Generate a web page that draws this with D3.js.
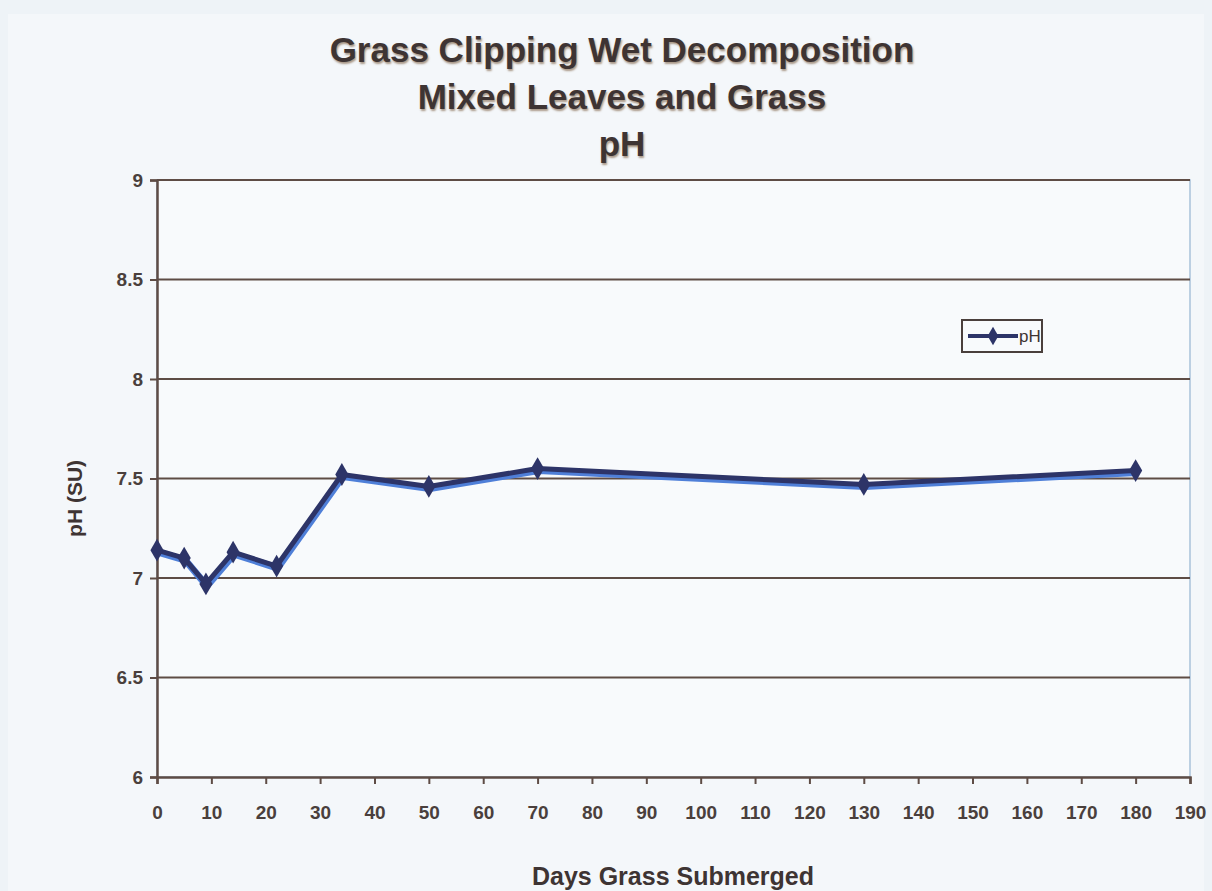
<!DOCTYPE html>
<html>
<head>
<meta charset="utf-8">
<script src="https://cdn.jsdelivr.net/npm/d3@7"></script>
<style>
  body { margin: 0; background: #eef3f7; }
  svg { display: block; }
</style>
</head>
<body>
<div id="chart"></div>
<script>
// Chart data
const days = [0, 5, 9, 14, 22, 34, 50, 70, 130, 180]
const phValues = [7.14, 7.10, 6.97, 7.13, 7.06, 7.52, 7.46, 7.55, 7.47, 7.54]
const titleLines = ['Grass Clipping Wet Decomposition', 'Mixed Leaves and Grass', 'pH']
const xTicks = d3.range(0, 191, 10)
const yTicks = [6, 6.5, 7, 7.5, 8, 8.5, 9]

const width = 1212
const height = 891
const margin = { top: 180, right: 22, bottom: 114, left: 157 }
const font = 'Liberation Sans, Arial, sans-serif'

const svg = d3.select('#chart')
  .append('svg')
  .attr('width', width)
  .attr('height', height)

// Photo-like background
svg.append('rect')
  .attr('x', 0).attr('y', 0)
  .attr('width', width).attr('height', height)
  .attr('fill', '#eef3f7')

svg.append('rect')
  .attr('x', 8).attr('y', 14)
  .attr('width', width - 16).attr('height', height - 14)
  .attr('fill', '#f4f7fa')

const x = d3.scaleLinear()
  .domain([0, 190])
  .range([margin.left, width - margin.right])

const y = d3.scaleLinear()
  .domain([6, 9])
  .range([height - margin.bottom, margin.top])

// Plot area
svg.append('rect')
  .attr('x', x(0)).attr('y', y(9))
  .attr('width', x(190) - x(0)).attr('height', y(6) - y(9))
  .attr('fill', '#f8fafc')
  .attr('stroke', '#a9c2da')
  .attr('stroke-width', 1.5)

// Gridlines
svg.append('g')
  .selectAll('line')
  .data(yTicks.filter(d => d > 6))
  .join('line')
  .attr('x1', x(0))
  .attr('x2', x(190))
  .attr('y1', d => y(d))
  .attr('y2', d => y(d))
  .attr('stroke', '#5e4c45')
  .attr('stroke-width', 2)

// Y axis
const yAxis = svg.append('g')
  .attr('transform', `translate(${x(0)},0)`)
  .call(d3.axisLeft(y).tickValues(yTicks).tickSize(7).tickPadding(7).tickFormat(d => d3.format('')(d)))

// X axis
const xAxis = svg.append('g')
  .attr('transform', `translate(0,${y(6)})`)
  .call(d3.axisBottom(x).tickValues(xTicks).tickSize(7).tickPadding(22))

;[yAxis, xAxis].forEach(ax => {
  ax.select('.domain').attr('stroke', '#5e4c45').attr('stroke-width', 2.5)
  ax.selectAll('.tick line').attr('stroke', '#5e4c45').attr('stroke-width', 2)
  ax.selectAll('.tick text')
    .attr('fill', '#4a3f3c')
    .style('font-family', font)
    .style('font-size', '19px')
    .style('font-weight', 'bold')
})

// Series line
const line = d3.line()
  .x((d, i) => x(days[i]))
  .y(d => y(d))

svg.append('path')
  .datum(phValues)
  .attr('fill', 'none')
  .attr('stroke', '#4f7fd8')
  .attr('stroke-width', 7)
  .attr('stroke-linejoin', 'round')
  .attr('transform', 'translate(1,2)')
  .attr('d', line)

svg.append('path')
  .datum(phValues)
  .attr('fill', 'none')
  .attr('stroke', '#2d3468')
  .attr('stroke-width', 5)
  .attr('stroke-linejoin', 'round')
  .attr('d', line)

// Diamond markers
const diamond = d3.symbol().type(d3.symbolDiamond).size(150)
svg.append('g')
  .selectAll('path')
  .data(phValues)
  .join('path')
  .attr('d', diamond)
  .attr('transform', (d, i) => `translate(${x(days[i])},${y(d)})`)
  .attr('fill', '#2d3468')

// Titles
svg.append('g')
  .selectAll('text')
  .data(titleLines)
  .join('text')
  .attr('x', 622)
  .attr('y', (d, i) => 62 + i * 47)
  .attr('text-anchor', 'middle')
  .attr('fill', '#3e3433')
  .style('font-family', font)
  .style('font-size', '35px')
  .style('font-weight', 'bold')
  .style('text-shadow', '1px 2px 2px rgba(120,90,60,0.6)')
  .text(d => d)

// Axis titles
svg.append('text')
  .attr('x', 673)
  .attr('y', 885)
  .attr('text-anchor', 'middle')
  .attr('fill', '#3e3433')
  .style('font-family', font)
  .style('font-size', '25px')
  .style('font-weight', 'bold')
  .text('Days Grass Submerged')

svg.append('text')
  .attr('transform', `translate(82,${y(7.4)}) rotate(-90)`)
  .attr('text-anchor', 'middle')
  .attr('fill', '#3e3433')
  .style('font-family', font)
  .style('font-size', '21px')
  .style('font-weight', 'bold')
  .text('pH (SU)')

// Legend
const legend = svg.append('g').attr('transform', 'translate(962,320)')
legend.append('rect')
  .attr('width', 80).attr('height', 32)
  .attr('fill', '#f8fafc')
  .attr('stroke', '#4a3f3c')
  .attr('stroke-width', 2)
legend.append('line')
  .attr('x1', 6).attr('x2', 56)
  .attr('y1', 16).attr('y2', 16)
  .attr('stroke', '#2d3468')
  .attr('stroke-width', 4)
legend.append('path')
  .attr('d', d3.symbol().type(d3.symbolDiamond).size(100))
  .attr('transform', 'translate(31,16)')
  .attr('fill', '#2d3468')
legend.append('text')
  .attr('x', 57).attr('y', 22)
  .attr('fill', '#3e3433')
  .style('font-family', font)
  .style('font-size', '17px')
  .text('pH')
</script>
</body>
</html>
